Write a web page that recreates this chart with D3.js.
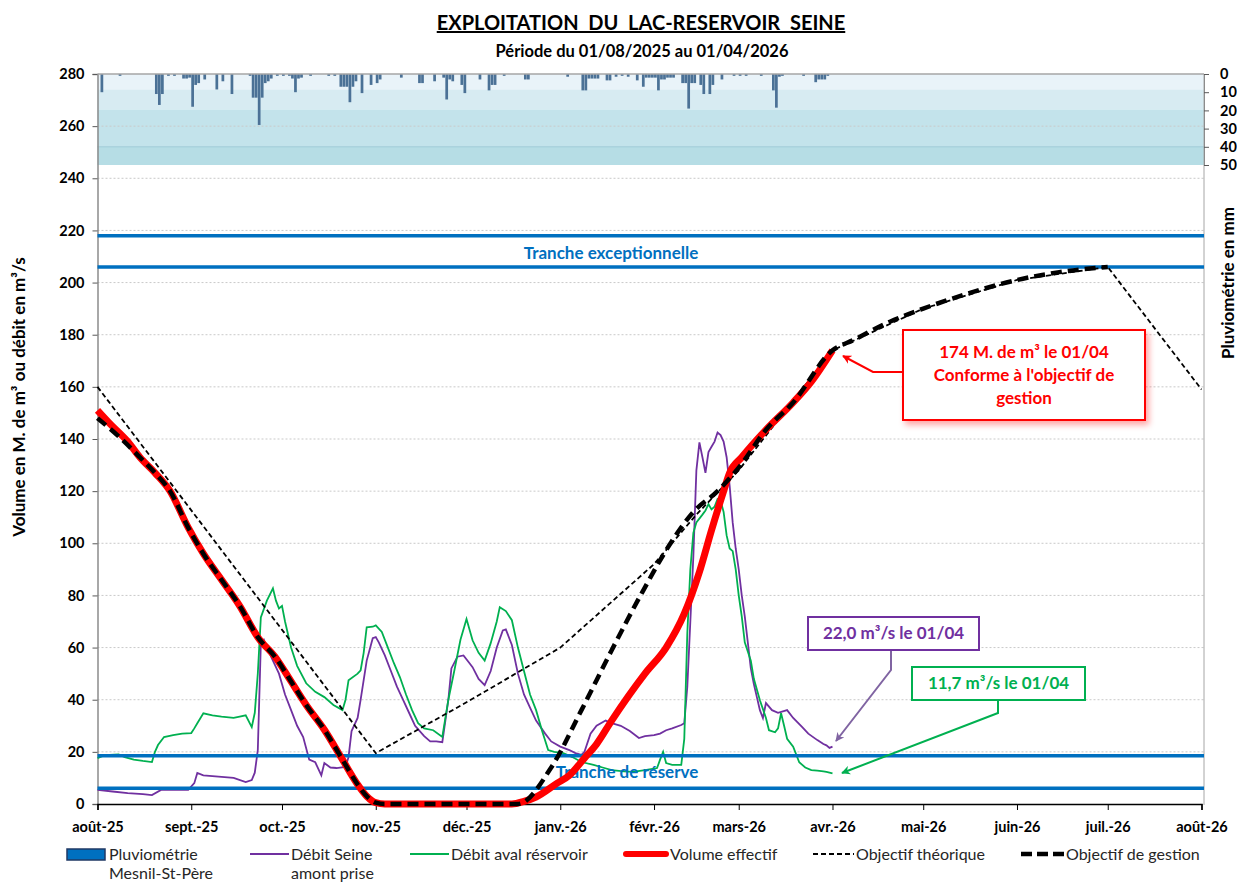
<!DOCTYPE html>
<html>
<head>
<meta charset="utf-8">
<script src="https://cdn.jsdelivr.net/npm/d3@7"></script>
<style>
body { margin: 0; background: #fff; }
svg { font-family: Lato, "Open Sans", sans-serif; }
</style>
</head>
<body>
<svg id="chart" width="1237" height="884"></svg>
<script>
// ---- data ----
var moisLabels = ["août-25", "sept.-25", "oct.-25", "nov.-25", "déc.-25", "janv.-26", "févr.-26",
                  "mars-26", "avr.-26", "mai-26", "juin-26", "juil.-26", "août-26"];
var moisDates = ["2025-08-01", "2025-09-01", "2025-10-01", "2025-11-01", "2025-12-01", "2026-01-01", "2026-02-01",
                 "2026-03-01", "2026-04-01", "2026-05-01", "2026-06-01", "2026-07-01", "2026-08-01"];
var yTicks = [0, 20, 40, 60, 80, 100, 120, 140, 160, 180, 200, 220, 240, 260, 280];
var pluieTicks = [0, 10, 20, 30, 40, 50];

// niveaux des tranches (M. de m3)
var tranches = [218, 206, 18.5, 6];

// pluviométrie journalière Mesnil-St-Père (mm)
var pluie = [
 ["2025-08-02",10],["2025-08-08",1],["2025-08-20",11],["2025-08-21",17],["2025-08-22",11],["2025-08-24",1],
 ["2025-08-26",1],["2025-08-29",2.5],["2025-08-30",2.5],["2025-08-31",2],["2025-09-01",18],["2025-09-02",6],
 ["2025-09-03",5],["2025-09-05",3],["2025-09-09",8.5],["2025-09-11",4],["2025-09-14",11],["2025-09-20",1],
 ["2025-09-21",13],["2025-09-22",13],["2025-09-23",28],["2025-09-24",13],["2025-09-25",5],["2025-09-26",4],
 ["2025-09-27",2.5],["2025-09-29",1],["2025-10-01",1],["2025-10-03",1],["2025-10-04",2.5],["2025-10-05",10],
 ["2025-10-06",2.5],["2025-10-07",2],["2025-10-10",1],["2025-10-16",1],["2025-10-18",1],["2025-10-20",7],
 ["2025-10-21",7],["2025-10-22",7],["2025-10-23",15.5],["2025-10-24",7],["2025-10-25",4],["2025-10-27",10.5],
 ["2025-10-30",6],["2025-11-01",5],["2025-11-02",3],["2025-11-09",2],["2025-11-15",5],["2025-11-16",5],
 ["2025-11-20",4],["2025-11-23",2],["2025-11-24",14],["2025-11-25",3],["2025-11-26",4],["2025-11-29",6],
 ["2025-11-30",10.5],["2025-12-05",3],["2025-12-08",9],["2025-12-09",6],["2025-12-10",6],["2025-12-13",1],
 ["2025-12-20",3],["2025-12-21",3],["2026-01-03",1.5],["2026-01-08",9],["2026-01-09",9],["2026-01-10",2.5],
 ["2026-01-11",2.5],["2026-01-12",2.5],["2026-01-13",2.5],["2026-01-16",3.5],["2026-01-17",3.5],["2026-01-19",1.5],
 ["2026-01-21",1],["2026-01-23",1.5],["2026-01-26",3.5],["2026-01-28",7],["2026-01-29",2],["2026-01-30",2],
 ["2026-01-31",2],["2026-02-01",2],["2026-02-02",9],["2026-02-03",3],["2026-02-04",3],["2026-02-05",2],
 ["2026-02-06",2],["2026-02-07",2],["2026-02-10",5],["2026-02-11",5],["2026-02-12",19],["2026-02-13",5],
 ["2026-02-14",5],["2026-02-16",6],["2026-02-17",11],["2026-02-19",11],["2026-02-20",6],["2026-02-23",3],
 ["2026-02-27",1],["2026-03-01",1],["2026-03-03",1],["2026-03-08",1],["2026-03-12",9],["2026-03-13",18.5],
 ["2026-03-14",1.5],["2026-03-15",1],["2026-03-22",1],["2026-03-26",4.5],["2026-03-27",3],["2026-03-28",3],
 ["2026-03-29",3],["2026-03-30",1]
];

// débit Seine amont prise (m3/s)
var debitAmont = [
 ["2025-08-01",5.4],["2025-08-06",4.8],["2025-08-11",4.2],["2025-08-16",3.8],["2025-08-19",3.4],["2025-08-22",5.4],
 ["2025-08-26",5.5],["2025-08-31",5.4],["2025-09-02",8],["2025-09-03",11.9],["2025-09-05",11],["2025-09-10",10.5],
 ["2025-09-15",10],["2025-09-19",8.4],["2025-09-21",9.2],["2025-09-22",12],["2025-09-23",20.7],["2025-09-24",61.6],
 ["2025-09-25",63],["2025-09-26",60],["2025-09-28",55],["2025-09-30",50],["2025-10-02",42],["2025-10-04",36],
 ["2025-10-06",30],["2025-10-08",25.7],["2025-10-10",17],["2025-10-12",16],["2025-10-14",11],["2025-10-15",15.7],
 ["2025-10-17",14],["2025-10-19",13.8],["2025-10-22",14.2],["2025-10-23",18],["2025-10-24",28],["2025-10-26",33],
 ["2025-10-27",40],["2025-10-29",55],["2025-10-31",63.6],["2025-11-01",64],["2025-11-02",62],["2025-11-04",57],
 ["2025-11-06",51],["2025-11-08",45],["2025-11-10",40],["2025-11-12",35],["2025-11-14",30],["2025-11-17",26],
 ["2025-11-19",24],["2025-11-21",24],["2025-11-23",23.7],["2025-11-25",40],["2025-11-26",52],["2025-11-28",56.5],
 ["2025-11-30",57],["2025-12-02",54],["2025-12-03",52.5],["2025-12-05",48],["2025-12-07",45.6],["2025-12-09",51],
 ["2025-12-11",60],["2025-12-13",66.6],["2025-12-14",67],["2025-12-16",61],["2025-12-18",50],["2025-12-20",42],
 ["2025-12-22",37],["2025-12-24",32],["2025-12-27",27],["2025-12-29",24],["2026-01-01",22],["2026-01-04",20.7],
 ["2026-01-06",19.5],["2026-01-08",18.8],["2026-01-09",20],["2026-01-11",27],["2026-01-13",30],["2026-01-16",32],
 ["2026-01-18",31],["2026-01-21",30],["2026-01-24",28],["2026-01-27",25.3],["2026-01-29",26],["2026-02-01",26.4],
 ["2026-02-03",27],["2026-02-05",28.3],["2026-02-07",29],["2026-02-10",30.3],["2026-02-11",31],["2026-02-12",45],
 ["2026-02-13",70],["2026-02-14",95],["2026-02-15",128],["2026-02-16",138.7],["2026-02-17",133],["2026-02-18",127],
 ["2026-02-19",135],["2026-02-20",137],["2026-02-21",139],["2026-02-22",142.5],["2026-02-23",141.5],["2026-02-24",139],
 ["2026-02-25",133],["2026-02-26",122],["2026-02-27",108],["2026-02-28",98],["2026-03-01",90],["2026-03-02",80],
 ["2026-03-03",72],["2026-03-04",62],["2026-03-05",52],["2026-03-06",46],["2026-03-07",41],["2026-03-08",36],
 ["2026-03-09",33],["2026-03-10",38.7],["2026-03-12",36],["2026-03-14",35],["2026-03-17",36],["2026-03-19",33],
 ["2026-03-22",29.5],["2026-03-24",27],["2026-03-27",24.5],["2026-03-29",23],["2026-03-30",22.5],["2026-03-31",21.5],
 ["2026-04-01",22]
];

// débit aval réservoir (m3/s)
var debitAval = [
 ["2025-08-01",17.6],["2025-08-03",18.5],["2025-08-05",18.8],["2025-08-08",19],["2025-08-10",18],["2025-08-13",17],
 ["2025-08-16",16.5],["2025-08-19",16.1],["2025-08-20",20],["2025-08-21",22.6],["2025-08-23",25.7],["2025-08-26",26.4],
 ["2025-08-29",27],["2025-09-01",27.2],["2025-09-02",29],["2025-09-03",31],["2025-09-05",34.8],["2025-09-08",34],
 ["2025-09-11",33.5],["2025-09-15",33],["2025-09-17",33.5],["2025-09-19",34],["2025-09-21",29.5],["2025-09-22",35],
 ["2025-09-23",50],["2025-09-24",71.6],["2025-09-26",78],["2025-09-28",82.7],["2025-09-29",78],["2025-09-30",75],
 ["2025-10-01",76],["2025-10-02",70],["2025-10-04",60],["2025-10-06",53],["2025-10-09",46.3],["2025-10-12",43],
 ["2025-10-15",41],["2025-10-18",38],["2025-10-21",36],["2025-10-22",40],["2025-10-23",47.5],["2025-10-26",50],
 ["2025-10-27",51.3],["2025-10-28",58],["2025-10-29",67.8],["2025-10-31",68],["2025-11-01",68.5],["2025-11-03",66],
 ["2025-11-05",60],["2025-11-07",54],["2025-11-09",48.6],["2025-11-11",42],["2025-11-13",36],["2025-11-15",31],
 ["2025-11-17",29],["2025-11-20",28.3],["2025-11-23",25.7],["2025-11-25",40],["2025-11-27",51.3],["2025-11-29",63],
 ["2025-12-01",71],["2025-12-03",62.8],["2025-12-05",58],["2025-12-07",55],["2025-12-09",61.7],["2025-12-11",70],
 ["2025-12-12",75.5],["2025-12-14",74],["2025-12-16",70.5],["2025-12-18",60],["2025-12-20",51],["2025-12-22",42],
 ["2025-12-24",36],["2025-12-26",28],["2025-12-28",20.7],["2025-12-30",20],["2026-01-02",19.5],["2026-01-05",18],
 ["2026-01-08",16.1],["2026-01-12",15],["2026-01-15",14],["2026-01-18",13],["2026-01-22",12.5],["2026-01-25",12.3],
 ["2026-01-29",13],["2026-02-02",13.8],["2026-02-03",17],["2026-02-04",20],["2026-02-05",15.7],["2026-02-07",15],
 ["2026-02-10",15],["2026-02-11",25],["2026-02-12",65.5],["2026-02-13",90],["2026-02-14",104],["2026-02-15",108],
 ["2026-02-17",111],["2026-02-18",112.6],["2026-02-19",115],["2026-02-20",113],["2026-02-21",114],["2026-02-22",117],
 ["2026-02-23",116.4],["2026-02-24",112],["2026-02-25",103],["2026-02-26",98],["2026-02-27",97],["2026-02-28",90],
 ["2026-03-01",80],["2026-03-02",72],["2026-03-03",62],["2026-03-05",55],["2026-03-06",48],["2026-03-08",39.8],
 ["2026-03-10",33],["2026-03-11",28.3],["2026-03-13",27.5],["2026-03-14",29],["2026-03-15",34.8],["2026-03-16",30],
 ["2026-03-17",25],["2026-03-19",22],["2026-03-21",16],["2026-03-23",14],["2026-03-25",13],["2026-03-27",12.8],
 ["2026-03-29",12.5],["2026-03-30",12.3],["2026-03-31",12],["2026-04-01",11.7]
];

// volume effectif (M. de m3)
var volume = [
 ["2025-08-01",151],["2025-08-05",146],["2025-08-11",139],["2025-08-15",133],["2025-08-20",127],["2025-08-25",120],
 ["2025-08-31",106],["2025-09-05",96],["2025-09-11",86],["2025-09-17",76],["2025-09-23",64],["2025-09-29",56],
 ["2025-10-04",47],["2025-10-09",38],["2025-10-15",28.5],["2025-10-21",17],["2025-10-26",7.5],["2025-10-29",3],
 ["2025-11-01",0.5],["2025-11-04",0],["2025-12-16",0],["2025-12-20",1],["2025-12-24",2.7],["2025-12-31",8],
 ["2026-01-04",11],["2026-01-09",17.6],["2026-01-13",23],["2026-01-18",32],["2026-01-29",50],["2026-02-05",60],
 ["2026-02-11",73],["2026-02-16",89],["2026-02-20",105],["2026-02-24",120],["2026-02-26",127],["2026-03-02",133],
 ["2026-03-10",143.5],["2026-03-19",154],["2026-03-25",162],["2026-04-01",174]
];

// objectif de gestion (M. de m3)
var objGestion = [
 ["2025-08-01",148],["2025-08-08",141],["2025-08-15",133],["2025-08-20",127],["2025-08-25",120],
 ["2025-08-31",106],["2025-09-05",96],["2025-09-11",86],["2025-09-17",76],["2025-09-23",64],["2025-09-29",56],
 ["2025-10-04",47],["2025-10-09",38],["2025-10-15",28.5],["2025-10-21",17],["2025-10-26",7.5],["2025-10-29",3],
 ["2025-11-01",0.5],["2025-11-04",0],["2025-12-18",0],["2025-12-29",14],["2026-01-08",36],["2026-01-18",59],
 ["2026-01-28",81],["2026-02-07",101],["2026-02-14",112],["2026-02-22",120],["2026-03-01",129],["2026-03-10",143.5],
 ["2026-03-19",154],["2026-04-01",174],["2026-04-08",178],["2026-04-20",185],["2026-05-01",190],["2026-05-15",195.5],
 ["2026-06-01",201],["2026-06-15",204],["2026-07-01",206]
];

// objectif théorique (M. de m3)
var objTheorique = [
 ["2025-08-01",160],["2025-11-01",19.5],["2025-12-01",39],["2026-01-01",60],["2026-02-01",92],["2026-02-15",111],
 ["2026-03-01",128],["2026-04-01",174],["2026-05-01",190],["2026-06-01",201],["2026-07-01",206],["2026-08-01",159]
];

// ---- chart ----
var svg = d3.select("#chart");
var parse = d3.timeParse("%Y-%m-%d");

var x = d3.scaleTime()
  .domain([parse("2025-08-01"), parse("2026-08-01")])
  .range([97.5, 1201.5]);
var y = d3.scaleLinear().domain([0, 280]).range([804, 74]);
var yPluie = d3.scaleLinear().domain([0, 50]).range([74, 165]);
var xLeft = 97.5, xRight = 1204;

var defs = svg.append("defs");
defs.append("filter").attr("id", "ombre").attr("x", "-10%").attr("y", "-10%").attr("width", "130%").attr("height", "140%")
  .append("feDropShadow").attr("dx", 3).attr("dy", 4).attr("stdDeviation", 3)
  .attr("flood-color", "#ff0000").attr("flood-opacity", 0.35);

function fleche(id, color) {
  defs.append("marker").attr("id", id)
    .attr("viewBox", "0 0 10 10").attr("refX", 9).attr("refY", 5)
    .attr("markerWidth", 9).attr("markerHeight", 9).attr("markerUnits", "userSpaceOnUse")
    .attr("orient", "auto")
    .append("path").attr("d", "M0,0 L10,5 L0,10 L3,5 Z").attr("fill", color);
}
fleche("fl-rouge", "#ff0000");
fleche("fl-violet", "#8064a2");
fleche("fl-vert", "#00b050");

// bandes de fond pluviométrie
var bandes = [[0, 8.5, "#e9f3f9"], [8.5, 19.5, "#d7ebf2"], [19.5, 40, "#c3e3eb"], [40, 50, "#b6dde5"]];
svg.append("g").selectAll("rect").data(bandes).enter().append("rect")
  .attr("x", xLeft).attr("width", xRight - xLeft)
  .attr("y", d => yPluie(d[0])).attr("height", d => yPluie(d[1]) - yPluie(d[0]))
  .attr("fill", d => d[2]);
svg.append("line").attr("x1", xLeft).attr("x2", xRight)
  .attr("y1", yPluie(40)).attr("y2", yPluie(40)).attr("stroke", "#9fcbd6").attr("stroke-width", 1);

// grille
svg.append("g").selectAll("line").data(yTicks.filter(v => v > 0 && v < 280)).enter().append("line")
  .attr("x1", xLeft).attr("x2", xRight)
  .attr("y1", d => y(d)).attr("y2", d => y(d))
  .attr("stroke", "#c9c9c9").attr("stroke-width", 1).attr("stroke-dasharray", "2,2");

// barres de pluie
svg.append("g").selectAll("rect").data(pluie).enter().append("rect")
  .attr("x", d => x(parse(d[0])))
  .attr("width", d => x(d3.timeDay.offset(parse(d[0]), 1)) - x(parse(d[0])) - 0.3)
  .attr("y", yPluie(0))
  .attr("height", d => yPluie(d[1]) - yPluie(0))
  .attr("fill", "#4b7196");

// axes
var axeG = svg.append("g").attr("transform", "translate(" + xLeft + ",0)")
  .call(d3.axisLeft(y).tickValues(yTicks).tickSize(5).tickPadding(8));
axeG.select(".domain").attr("stroke", "#8c8c8c").attr("stroke-width", 1.5);
axeG.selectAll(".tick line").attr("stroke", "#595959");
axeG.selectAll("text").attr("font-size", 14.5).attr("font-weight", "bold").attr("fill", "#000")
  .attr("font-family", "Lato, sans-serif");

svg.append("line").attr("x1", xLeft).attr("x2", xRight).attr("y1", 74).attr("y2", 74)
  .attr("stroke", "#a6a6a6").attr("stroke-width", 1.5);
svg.append("line").attr("x1", xRight).attr("x2", xRight).attr("y1", 74).attr("y2", 805)
  .attr("stroke", "#a6a6a6").attr("stroke-width", 1);

var axeD = svg.append("g").attr("transform", "translate(" + xRight + ",0)")
  .call(d3.axisRight(yPluie).tickValues(pluieTicks).tickSize(5).tickPadding(11));
axeD.select(".domain").attr("stroke", "#8c8c8c").attr("stroke-width", 1);
axeD.selectAll(".tick line").attr("stroke", "#595959");
axeD.selectAll("text").attr("font-size", 14.5).attr("font-weight", "bold").attr("fill", "#000")
  .attr("font-family", "Lato, sans-serif");

var axeB = svg.append("g").attr("transform", "translate(0,804)")
  .call(d3.axisBottom(x).tickValues(moisDates.map(parse)).tickSize(6).tickPadding(12)
    .tickFormat((d, i) => moisLabels[i]));
axeB.select(".domain").attr("stroke", "#000").attr("stroke-width", 1.5);
axeB.selectAll(".tick line").attr("stroke", "#000");
axeB.selectAll("text").attr("font-size", 14.5).attr("font-weight", "bold").attr("fill", "#000")
  .attr("font-family", "Lato, sans-serif");

// séries
var ligne = d3.line().x(d => x(parse(d[0]))).y(d => y(d[1]));
var ligneLisse = d3.line().x(d => x(parse(d[0]))).y(d => y(d[1])).curve(d3.curveMonotoneX);

svg.append("path").datum(debitAmont).attr("d", ligne)
  .attr("fill", "none").attr("stroke", "#7030a0").attr("stroke-width", 1.8);
svg.append("path").datum(debitAval).attr("d", ligne)
  .attr("fill", "none").attr("stroke", "#00b050").attr("stroke-width", 1.8);

svg.append("g").selectAll("line").data(tranches).enter().append("line")
  .attr("x1", xLeft).attr("x2", xRight)
  .attr("y1", d => y(d)).attr("y2", d => y(d))
  .attr("stroke", "#0070c0").attr("stroke-width", 3.5);

svg.append("text").attr("x", 611).attr("y", 259).attr("text-anchor", "middle")
  .attr("font-size", 17).attr("font-weight", "bold").attr("fill", "#0070c0").text("Tranche exceptionnelle");
svg.append("text").attr("x", 627).attr("y", 778).attr("text-anchor", "middle")
  .attr("font-size", 17).attr("font-weight", "bold").attr("fill", "#0070c0").text("Tranche de réserve");

svg.append("path").datum(objTheorique).attr("d", ligne)
  .attr("fill", "none").attr("stroke", "#000").attr("stroke-width", 1.8).attr("stroke-dasharray", "5,3");
svg.append("path").datum(volume).attr("d", ligneLisse)
  .attr("fill", "none").attr("stroke", "#ff0000").attr("stroke-width", 7).attr("stroke-linejoin", "round");
svg.append("path").datum(objGestion).attr("d", ligneLisse)
  .attr("fill", "none").attr("stroke", "#000").attr("stroke-width", 4.5).attr("stroke-dasharray", "11,6");

// annotations
function boite(x0, y0, w, h, color, lignes, taille, filtre) {
  var r = svg.append("rect").attr("x", x0).attr("y", y0).attr("width", w).attr("height", h)
    .attr("fill", "#fff").attr("stroke", color).attr("stroke-width", 2);
  if (filtre) r.attr("filter", "url(#ombre)");
  var t = svg.append("text").attr("text-anchor", "middle").attr("font-size", taille)
    .attr("font-weight", "bold").attr("fill", color);
  var cy = y0 + h / 2 - (lignes.length - 1) * 11.5;
  lignes.forEach(function(l, i) {
    t.append("tspan").attr("x", x0 + w / 2).attr("y", cy + i * 23).attr("dy", "0.35em").text(l);
  });
}
svg.append("polyline").attr("points", "903,372 873,372 843,356")
  .attr("fill", "none").attr("stroke", "#ff0000").attr("stroke-width", 2).attr("marker-end", "url(#fl-rouge)");
svg.append("polyline").attr("points", "891,649 891,670 836,741")
  .attr("fill", "none").attr("stroke", "#8064a2").attr("stroke-width", 2).attr("marker-end", "url(#fl-violet)");
svg.append("polyline").attr("points", "998,699 998,713 842,773")
  .attr("fill", "none").attr("stroke", "#00b050").attr("stroke-width", 2).attr("marker-end", "url(#fl-vert)");

boite(903, 330, 242, 90, "#ff0000", ["174 M. de m³ le 01/04", "Conforme à l'objectif de", "gestion"], 17, true);
boite(808, 617, 171, 33, "#7030a0", ["22,0 m³/s le 01/04"], 17, false);
boite(912, 667, 173, 33, "#00b050", ["11,7 m³/s le 01/04"], 17, false);

// titres
svg.append("text").attr("x", 641).attr("y", 30).attr("text-anchor", "middle")
  .attr("font-size", 20).attr("font-weight", "bold").style("text-decoration", "underline")
  .attr("xml:space", "preserve").text("EXPLOITATION  DU  LAC-RESERVOIR  SEINE");
svg.append("text").attr("x", 642).attr("y", 57).attr("text-anchor", "middle")
  .attr("font-size", 16.5).attr("font-weight", "bold").text("Période du 01/08/2025 au 01/04/2026");

svg.append("text").attr("transform", "translate(25,397) rotate(-90)").attr("text-anchor", "middle")
  .attr("font-size", 17).attr("font-weight", "bold").text("Volume en M. de m³ ou débit en m³/s");
svg.append("text").attr("transform", "translate(1234,283) rotate(-90)").attr("text-anchor", "middle")
  .attr("font-size", 17).attr("font-weight", "bold").text("Pluviométrie en mm");

// légende
var leg = svg.append("g").attr("font-size", 16).attr("fill", "#262626");
leg.append("rect").attr("x", 67).attr("y", 849).attr("width", 38).attr("height", 11)
  .attr("fill", "#0070c0").attr("stroke", "#1f3864").attr("stroke-width", 1.5);
leg.append("text").attr("x", 109).attr("y", 860).text("Pluviométrie");
leg.append("text").attr("x", 109).attr("y", 879).text("Mesnil-St-Père");
leg.append("line").attr("x1", 250).attr("x2", 289).attr("y1", 854).attr("y2", 854)
  .attr("stroke", "#7030a0").attr("stroke-width", 2);
leg.append("text").attr("x", 291).attr("y", 860).text("Débit Seine");
leg.append("text").attr("x", 291).attr("y", 879).text("amont prise");
leg.append("line").attr("x1", 410).attr("x2", 449).attr("y1", 854).attr("y2", 854)
  .attr("stroke", "#00b050").attr("stroke-width", 2);
leg.append("text").attr("x", 451).attr("y", 860).text("Débit aval réservoir");
leg.append("line").attr("x1", 626).attr("x2", 666).attr("y1", 854).attr("y2", 854)
  .attr("stroke", "#ff0000").attr("stroke-width", 6).attr("stroke-linecap", "round");
leg.append("text").attr("x", 670).attr("y", 860).text("Volume effectif");
leg.append("line").attr("x1", 813).attr("x2", 854).attr("y1", 854).attr("y2", 854)
  .attr("stroke", "#000").attr("stroke-width", 1.8).attr("stroke-dasharray", "5,3");
leg.append("text").attr("x", 856).attr("y", 860).text("Objectif théorique");
leg.append("line").attr("x1", 1021).attr("x2", 1064).attr("y1", 854).attr("y2", 854)
  .attr("stroke", "#000").attr("stroke-width", 4.5).attr("stroke-dasharray", "11,5");
leg.append("text").attr("x", 1066).attr("y", 860).text("Objectif de gestion");
</script>
</body>
</html>
